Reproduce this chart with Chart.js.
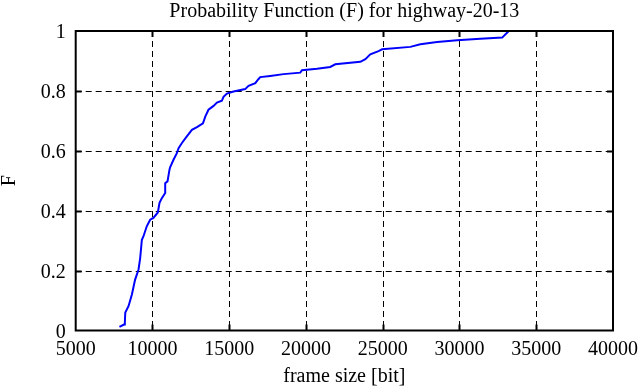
<!DOCTYPE html>
<html>
<head>
<meta charset="utf-8">
<script src="https://cdn.jsdelivr.net/npm/chart.js@4/dist/chart.umd.min.js"></script>
<style>
html,body{margin:0;padding:0;background:#fff;}
#wrap{width:639px;height:387px;position:relative;}
</style>
</head>
<body>
<div id="wrap"><canvas id="c" width="639" height="387"></canvas></div>
<script>
// ---- data ----
const titleText = "Probability Function (F) for highway-20-13";
const xAxisTitle = "frame size [bit]";
const yAxisTitle = "F";
const xTicks = [5000, 10000, 15000, 20000, 25000, 30000, 35000, 40000];
const yTicks = [0, 0.2, 0.4, 0.6, 0.8, 1];
const frameSize = [7850, 8150, 8200, 8230, 8440, 8660, 8870, 9090, 9200, 9310, 9410, 9630, 9850, 10060, 10350, 10460, 10610, 10830, 10830, 10980, 11110, 11150, 11370, 11590, 11700, 11920, 12240, 12570, 12900, 13290, 13440, 13650, 13980, 14200, 14520, 14630, 14850, 15280, 16040, 16260, 16700, 16900, 17020, 17670, 18540, 19630, 19740, 20720, 21580, 21910, 23540, 23870, 24190, 24730, 24960, 26800, 27450, 28540, 29850, 31360, 32780, 33210];
const cdf = [0.012, 0.02, 0.025, 0.06, 0.081, 0.12, 0.17, 0.203, 0.242, 0.303, 0.314, 0.348, 0.37, 0.376, 0.394, 0.426, 0.442, 0.459, 0.492, 0.498, 0.537, 0.545, 0.57, 0.592, 0.609, 0.626, 0.648, 0.67, 0.679, 0.692, 0.714, 0.737, 0.75, 0.761, 0.767, 0.78, 0.791, 0.798, 0.806, 0.817, 0.826, 0.839, 0.846, 0.85, 0.856, 0.861, 0.869, 0.874, 0.88, 0.889, 0.897, 0.906, 0.922, 0.933, 0.939, 0.947, 0.956, 0.963, 0.969, 0.974, 0.978, 1.0];

const FONT = "'Liberation Serif', 'DejaVu Serif', serif";

const points = frameSize.map((x, i) => ({x: x, y: cdf[i]}));

const framePlugin = {
  id: 'frame',
  beforeDatasetsDraw(chart) {
    const {ctx, chartArea: a, scales} = chart;
    ctx.save();
    ctx.strokeStyle = '#000';
    ctx.lineWidth = 1;
    ctx.setLineDash([6, 4]);
    xTicks.slice(1, -1).forEach(v => {
      const px = Math.round(scales.x.getPixelForValue(v)) + 0.5;
      ctx.beginPath(); ctx.moveTo(px, a.top); ctx.lineTo(px, a.bottom); ctx.stroke();
    });
    yTicks.slice(1, -1).forEach(v => {
      const py = Math.round(scales.y.getPixelForValue(v)) + 0.5;
      ctx.beginPath(); ctx.moveTo(a.left, py); ctx.lineTo(a.right, py); ctx.stroke();
    });
    ctx.setLineDash([]);
    ctx.lineWidth = 2;
    const tl = 6;
    xTicks.slice(1, -1).forEach(v => {
      const px = Math.round(scales.x.getPixelForValue(v)) + 0.5;
      ctx.beginPath(); ctx.moveTo(px, a.top); ctx.lineTo(px, a.top + tl); ctx.stroke();
      ctx.beginPath(); ctx.moveTo(px, a.bottom); ctx.lineTo(px, a.bottom - tl); ctx.stroke();
    });
    yTicks.slice(1, -1).forEach(v => {
      const py = Math.round(scales.y.getPixelForValue(v)) + 0.5;
      ctx.beginPath(); ctx.moveTo(a.left, py); ctx.lineTo(a.left + tl, py); ctx.stroke();
      ctx.beginPath(); ctx.moveTo(a.right, py); ctx.lineTo(a.right - tl, py); ctx.stroke();
    });
    ctx.restore();
  },
  afterDatasetsDraw(chart) {
    const {ctx, chartArea: a} = chart;
    ctx.save();
    ctx.strokeStyle = '#000';
    ctx.lineWidth = 2;
    ctx.strokeRect(a.left, a.top, a.right - a.left, a.bottom - a.top);
    ctx.restore();
  },
  afterDraw(chart) {
    const {ctx, chartArea: a} = chart;
    ctx.save();
    ctx.fillStyle = '#000';
    ctx.font = "20px " + FONT;
    ctx.textAlign = 'center';
    ctx.textBaseline = 'middle';
    ctx.fillText(titleText, (a.left + a.right) / 2, 12);
    ctx.restore();
  }
};

new Chart(document.getElementById('c'), {
  type: 'scatter',
  data: {
    datasets: [{
      data: points,
      showLine: true,
      borderColor: '#0000ff',
      backgroundColor: '#0000ff',
      borderWidth: 2,
      pointRadius: 0,
      tension: 0
    }]
  },
  options: {
    responsive: false,
    animation: false,
    devicePixelRatio: 1,
    layout: {padding: {top: 31, right: 26, left: 0, bottom: 0}},
    plugins: {legend: {display: false}, tooltip: {enabled: false}, title: {display: false}},
    scales: {
      x: {
        type: 'linear', min: 5000, max: 40000,
        afterBuildTicks: s => { s.ticks = xTicks.map(v => ({value: v})); },
        afterFit: s => { s.height = 56.5; s.paddingLeft = 0; s.paddingRight = 0; },
        grid: {display: false, drawTicks: false},
        border: {display: false},
        ticks: {color: '#000', font: {family: FONT, size: 20}, padding: 7, maxRotation: 0, autoSkip: false,
                callback: v => String(v)},
        title: {display: true, text: xAxisTitle, color: '#000', font: {family: FONT, size: 20, lineHeight: 1}, padding: {top: 0, bottom: 0}}
      },
      y: {
        type: 'linear', min: 0, max: 1,
        afterBuildTicks: s => { s.ticks = yTicks.map(v => ({value: v})); },
        afterFit: s => { s.width = 75.7; s.paddingTop = 0; s.paddingBottom = 0; },
        grid: {display: false, drawTicks: false},
        border: {display: false},
        ticks: {color: '#000', font: {family: FONT, size: 20}, padding: 10, autoSkip: false, labelOffset: 2,
                callback: v => String(v)},
        title: {display: true, text: yAxisTitle, color: '#000', font: {family: FONT, size: 20, lineHeight: 1}, padding: {top: 0, bottom: 0}}
      }
    }
  },
  plugins: [framePlugin]
});
</script>
</body>
</html>
